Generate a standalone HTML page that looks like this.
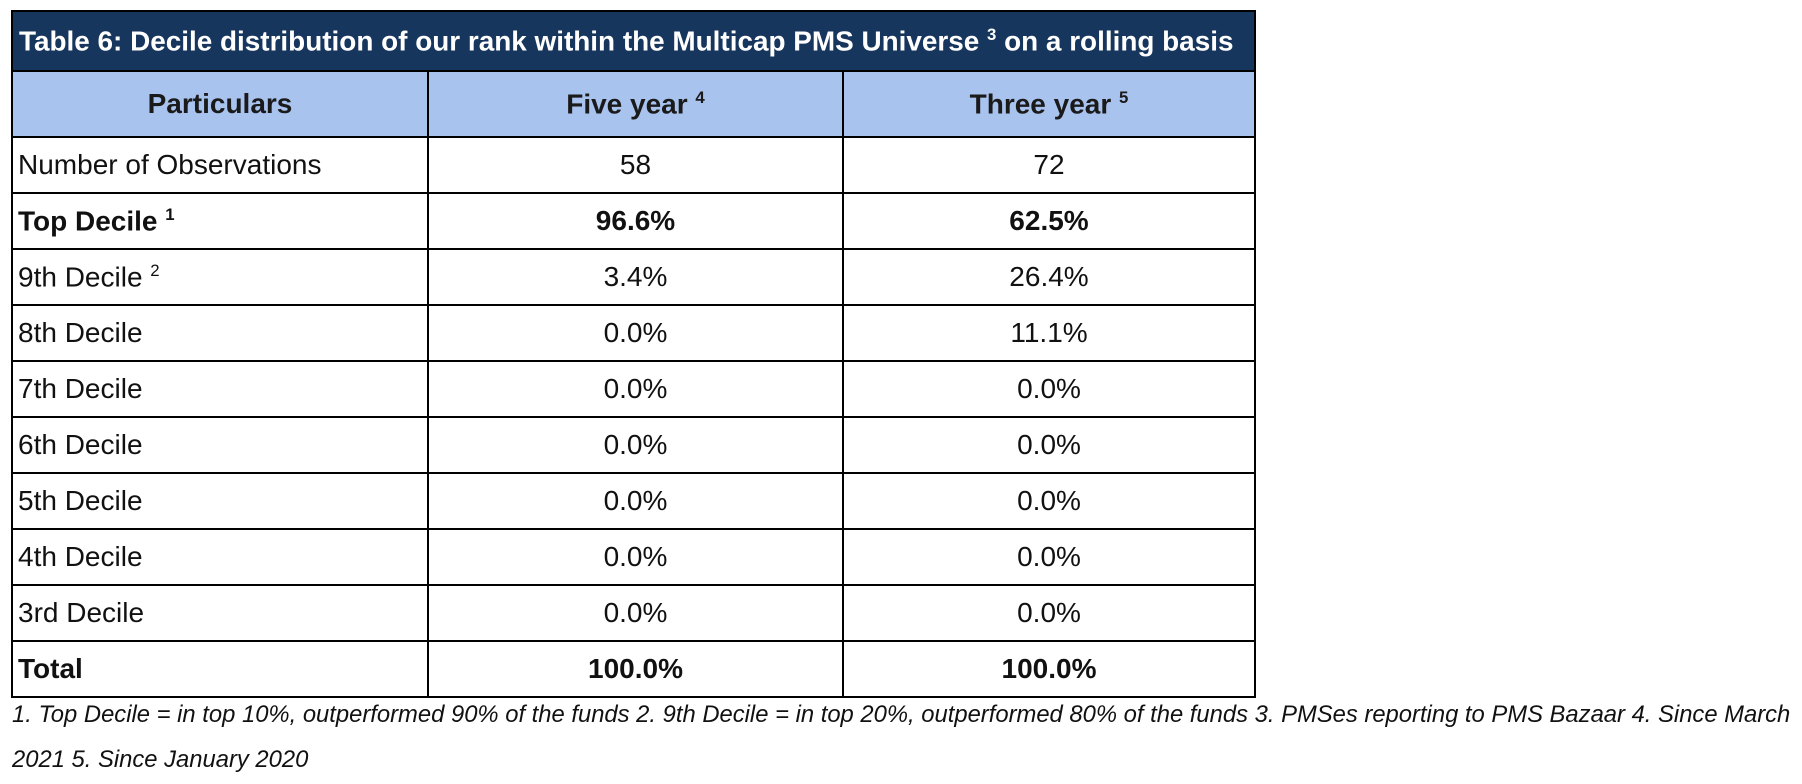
<!DOCTYPE html>
<html><head><style>
body{margin:0;width:1802px;height:784px;background:#fff;font-family:"Liberation Sans",sans-serif;position:relative;overflow:hidden}
table{position:absolute;left:11px;top:10px;border-collapse:collapse;width:1243px;table-layout:fixed}
td{border:2px solid #000;font-size:28px;color:#111;height:54px;padding:0 5px;text-align:center}
td:first-child{text-align:left}
tr.t td{background:#17365d;color:#fff;font-weight:bold;font-size:27.9px;height:58px;text-align:left;padding-left:6px;white-space:nowrap;overflow:hidden}
tr.h td{background:#a9c3ef;font-weight:bold;height:64px;text-align:center;color:#1a1a1a}
tr.b td{font-weight:bold}
sup{font-size:60%}
.fn{position:absolute;left:12px;font-style:italic;font-size:23.8px;color:#111;white-space:nowrap}
</style></head><body>
<table>
<col style="width:416px"><col style="width:415px"><col style="width:412px">
<tr class="t"><td colspan="3">Table 6: Decile distribution of our rank within the Multicap PMS Universe <sup>3</sup> on a rolling basis</td></tr>
<tr class="h"><td style="text-align:center">Particulars</td><td>Five year <sup>4</sup></td><td>Three year <sup>5</sup></td></tr>
<tr><td>Number of Observations</td><td>58</td><td>72</td></tr>
<tr class="b"><td>Top Decile <sup>1</sup></td><td>96.6%</td><td>62.5%</td></tr>
<tr><td>9th Decile <sup>2</sup></td><td>3.4%</td><td>26.4%</td></tr>
<tr><td>8th Decile</td><td>0.0%</td><td>11.1%</td></tr>
<tr><td>7th Decile</td><td>0.0%</td><td>0.0%</td></tr>
<tr><td>6th Decile</td><td>0.0%</td><td>0.0%</td></tr>
<tr><td>5th Decile</td><td>0.0%</td><td>0.0%</td></tr>
<tr><td>4th Decile</td><td>0.0%</td><td>0.0%</td></tr>
<tr><td>3rd Decile</td><td>0.0%</td><td>0.0%</td></tr>
<tr class="b"><td>Total</td><td>100.0%</td><td>100.0%</td></tr>
</table>
<div class="fn" style="top:701px">1. Top Decile = in top 10%, outperformed 90% of the funds 2. 9th Decile = in top 20%, outperformed 80% of the funds 3. PMSes reporting to PMS Bazaar 4. Since March</div>
<div class="fn" style="top:746px">2021 5. Since January 2020</div>
</body></html>
